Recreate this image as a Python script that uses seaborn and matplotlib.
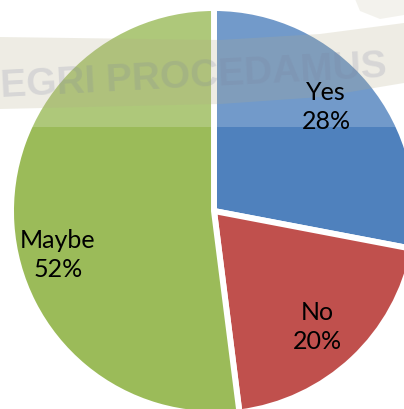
import matplotlib
matplotlib.use("Agg")
import matplotlib.pyplot as plt
import seaborn as sns
from matplotlib.patches import Polygon

categories = ["Yes", "No", "Maybe"]
values = [28, 20, 52]
colors_hex = ["#4f81bd", "#c0504d", "#9bbb59"]

sns.set_theme(style="white")
plt.rcParams['font.family'] = ['Lato', 'DejaVu Sans']

W, H = 404, 410
S = 203.0            # pixels per data unit (pie radius 1)
CX, CY = 214, 212    # pie centre in pixels (from top-left)

def P(px, py):
    return (px - CX) / S, (CY - py) / S

fig = plt.figure(figsize=(W / 100, H / 100), dpi=100)
fig.patch.set_facecolor("white")
ax = fig.add_axes([0, 0, 1, 1])

palette = sns.color_palette(colors_hex)
wedges, _ = ax.pie(values, colors=palette, startangle=90, counterclock=False,
                   radius=1.0, center=(0, 0),
                   wedgeprops=dict(edgecolor="white", linewidth=4.3))
ax.set_aspect("auto")
ax.set_xlim(-CX / S, (W - CX) / S)
ax.set_ylim(-(H - CY) / S, CY / S)
ax.axis("off")

# watermark overlay (decorative)
ax.add_patch(Polygon([P(0, 0), P(W, 0), P(W, 128), P(0, 128)], closed=True,
                     facecolor="white", alpha=0.2, edgecolor="none", zorder=3,
                     clip_on=False))
ax.add_patch(Polygon([P(0, 38), P(220, 41), P(320, 35), P(W, 24),
                      P(W, 84), P(320, 98), P(220, 105), P(0, 110)], closed=True,
                     facecolor="#b3ac86", alpha=0.22, edgecolor="none", zorder=3,
                     clip_on=False))
ax.add_patch(Polygon([P(355, 0), P(W, 0), P(W, 16), P(380, 20), P(360, 12)], closed=True,
                     facecolor="#d9d6c4", alpha=0.3, edgecolor="none", zorder=3))
wx, wy = P(194, 77)
ax.text(wx, wy, "EGRI PROCEDAMUS", family=["Liberation Sans", "DejaVu Sans"],
        fontweight="bold", fontsize=28, color="#7a809e", alpha=0.2,
        ha="center", va="center", rotation=3, zorder=4)

# data labels
label_px = [(326, 107), (317, 327), (58, 255)]
for cat, val, (lx, ly) in zip(categories, values, label_px):
    x, y = P(lx, ly)
    ax.text(x, y, f"{cat}\n{val}%", ha="center", va="center", fontsize=18,
            color="black", linespacing=1.35, zorder=6)

fig.savefig("out.png", dpi=100, facecolor="white")
